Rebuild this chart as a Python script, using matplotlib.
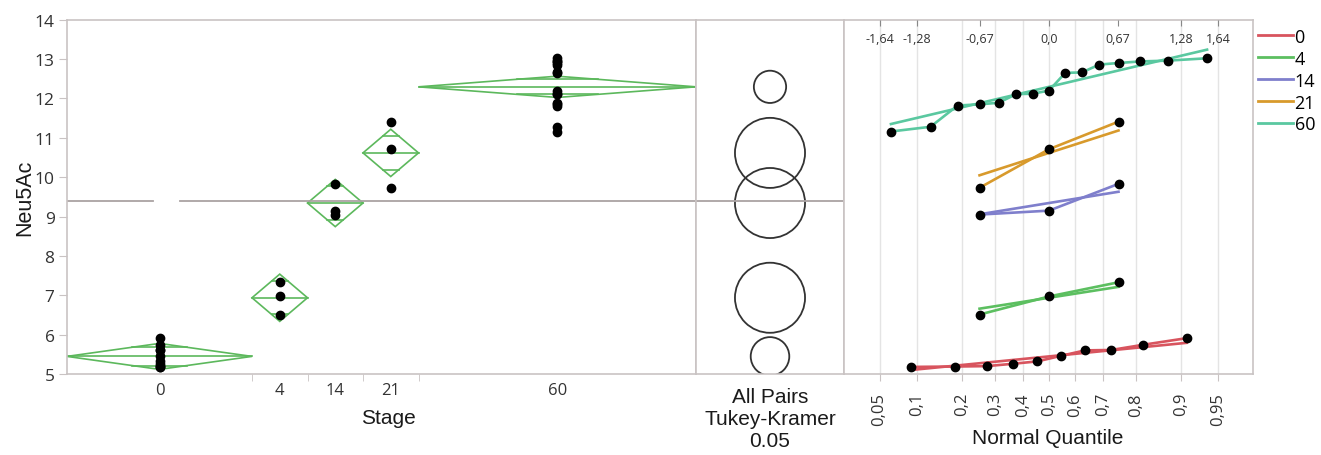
import matplotlib
matplotlib.use('Agg')
import matplotlib.pyplot as plt
from matplotlib.patches import Polygon, Circle
from matplotlib.lines import Line2D
from statistics import NormalDist, mean, stdev

# data
stages = ['0', '4', '14', '21', '60']
neu_0 = [5.18, 5.19, 5.20, 5.26, 5.32, 5.46, 5.60, 5.61, 5.74, 5.91]
neu_4 = [6.51, 6.97, 7.33]
neu_14 = [9.05, 9.15, 9.83]
neu_21 = [9.73, 10.71, 11.41]
neu_60 = [11.16, 11.28, 11.82, 11.85, 11.89, 12.11, 12.12, 12.20,
          12.65, 12.66, 12.86, 12.90, 12.94, 12.96, 13.02]
groups = [neu_0, neu_4, neu_14, neu_21, neu_60]
ci_half = [0.33, 0.60, 0.60, 0.60, 0.27]       # means diamond half height
tk_radius = [0.49, 0.89, 0.89, 0.89, 0.41]     # comparison circle radius
probs = [0.05, 0.1, 0.2, 0.3, 0.4, 0.5, 0.6, 0.7, 0.8, 0.9, 0.95]
prob_labels = ['0,05', '0,1', '0,2', '0,3', '0,4', '0,5', '0,6', '0,7', '0,8', '0,9', '0,95']
zticks = [-1.64, -1.28, -0.67, 0.0, 0.67, 1.28, 1.64]
zlabels = ['-1,64', '-1,28', '-0,67', '0,0', '0,67', '1,28', '1,64']

grp_colors = ['#d8545e', '#5cbf60', '#7f7fcc', '#d89a2c', '#5ac8a0']
green = '#5cb85c'
frame = '#c9c3c3'
tickfont = 'Open Sans'
labfont = 'Liberation Sans'

W, H = 1321, 456
fig = plt.figure(figsize=(W / 100, H / 100), dpi=100)


def px_axes(x0, x1, y0, y1):
    return fig.add_axes([x0 / W, 1 - y1 / H, (x1 - x0) / W, (y1 - y0) / H])


ax = px_axes(67, 696, 20.7, 375)
axc = px_axes(696, 844, 20.7, 375)
axq = px_axes(844, 1253, 20.7, 375)

for a in (ax, axc, axq):
    a.set_ylim(5, 14)
    for s in a.spines.values():
        s.set_color(frame)
        s.set_linewidth(1.2)

# ---- oneway plot with means diamonds
sizes = [len(g) for g in groups]
bounds = [0]
for n in sizes:
    bounds.append(bounds[-1] + n)
centers = [(bounds[i] + bounds[i + 1]) / 2 for i in range(len(groups))]
all_vals = [v for g in groups for v in g]
grand = mean(all_vals)

ax.plot([0, 4.65], [grand, grand], color='#aaa3a3', lw=1.3)
ax.plot([6.1, bounds[-1]], [grand, grand], color='#aaa3a3', lw=1.3)

for i, g in enumerate(groups):
    b0, b1, c = bounds[i], bounds[i + 1], centers[i]
    m, h = mean(g), ci_half[i]
    ax.add_patch(Polygon([(b0, m), (c, m + h), (b1, m), (c, m - h)], closed=True,
                         fill=False, ec=green, lw=1.2))
    ax.plot([b0, b1], [m, m], color=green, lw=1.2)
    d = h / 2 ** 0.5
    w = (b1 - b0) / 2 * (1 - 2 ** -0.5)
    for yy in (m + d, m - d):
        ax.plot([c - w, c + w], [yy, yy], color=green, lw=1.2)
    ax.plot([c] * len(g), g, 'o', color='black', ms=6, zorder=5)

ax.set_xlim(0, bounds[-1])
ax.set_xticks(centers)
ax.set_xticklabels(stages, fontfamily=tickfont, fontsize=12, color='#333333')
ax.set_xticks(bounds[1:-1], minor=True)
ax.tick_params(axis='x', which='major', length=0, pad=6)
ax.tick_params(axis='x', which='minor', length=5, color=frame, direction='out')
ax.set_yticks(range(5, 15))
ax.tick_params(axis='y', length=6, color=frame, labelsize=12.5, labelcolor='#333333', pad=3)
for t in ax.get_yticklabels():
    t.set_fontfamily(tickfont)

# ---- comparison circles
pw, ph = 148, 354.3
xh = pw / 2 * 9 / ph
axc.set_xlim(-xh, xh)
axc.axhline(grand, color='#aaa3a3', lw=1.3)
for i, g in enumerate(groups):
    axc.add_patch(Circle((0, mean(g)), tk_radius[i], fill=False, ec='#333333', lw=1.3))
axc.set_xticks([])
axc.set_yticks([])

# ---- normal quantile plot
nd = NormalDist()
zprob = [nd.inv_cdf(p) for p in probs]
for z in zprob:
    axq.axvline(z, color='#e4e4e4', lw=1, zorder=0)
for i, g in enumerate(groups):
    vals = sorted(g)
    n = len(vals)
    zs = [nd.inv_cdf(k / (n + 1)) for k in range(1, n + 1)]
    m, s = mean(vals), stdev(vals)
    axq.plot(zs, vals, color=grp_colors[i], lw=1.9, zorder=2)
    axq.plot([zs[0], zs[-1]], [m + s * zs[0], m + s * zs[-1]], color=grp_colors[i], lw=1.9, zorder=2)
    axq.plot(zs, vals, 'o', color='black', ms=6, zorder=4)
axq.set_xlim(-1.99, 1.98)
axq.set_yticks([])
axq.set_xticks(zprob)
axq.set_xticklabels(prob_labels, rotation=90, fontfamily=tickfont, fontsize=12, color='#333333')
axq.tick_params(axis='x', length=5, color=frame, pad=8)

axt = axq.twiny()
axt.set_xlim(axq.get_xlim())
axt.set_xticks(zticks)
axt.set_xticklabels(zlabels, fontfamily=tickfont, fontsize=9, color='#333333')
axt.tick_params(axis='x', direction='in', length=4, color='#888888', pad=-18)
for s in axt.spines.values():
    s.set_visible(False)

handles = [Line2D([], [], color=c, lw=2) for c in grp_colors]
axq.legend(handles, stages, loc='upper left', bbox_to_anchor=(1.0, 0.993), frameon=False,
           prop={'family': tickfont, 'size': 13}, handlelength=1.9, handletextpad=0.1,
           labelspacing=0.22, borderaxespad=0.1, borderpad=0.2)

# ---- axis titles
fig.text(25 / W, 1 - 198 / H, 'Neu5Ac', rotation=90, ha='center', va='center',
         fontfamily=labfont, fontsize=15.5, color='#1a1a1a')
fig.text(388 / W, 1 - 419 / H, 'Stage', ha='center', va='center',
         fontfamily=labfont, fontsize=15, color='#1a1a1a')
fig.text(770 / W, 1 - 420 / H, 'All Pairs\nTukey-Kramer\n0.05', ha='center', va='center',
         multialignment='center', linespacing=1.2, fontfamily=labfont, fontsize=15, color='#1a1a1a')
fig.text(1048 / W, 1 - 439 / H, 'Normal Quantile', ha='center', va='center',
         fontfamily=labfont, fontsize=15, color='#1a1a1a')

fig.savefig('out.png', dpi=100)
